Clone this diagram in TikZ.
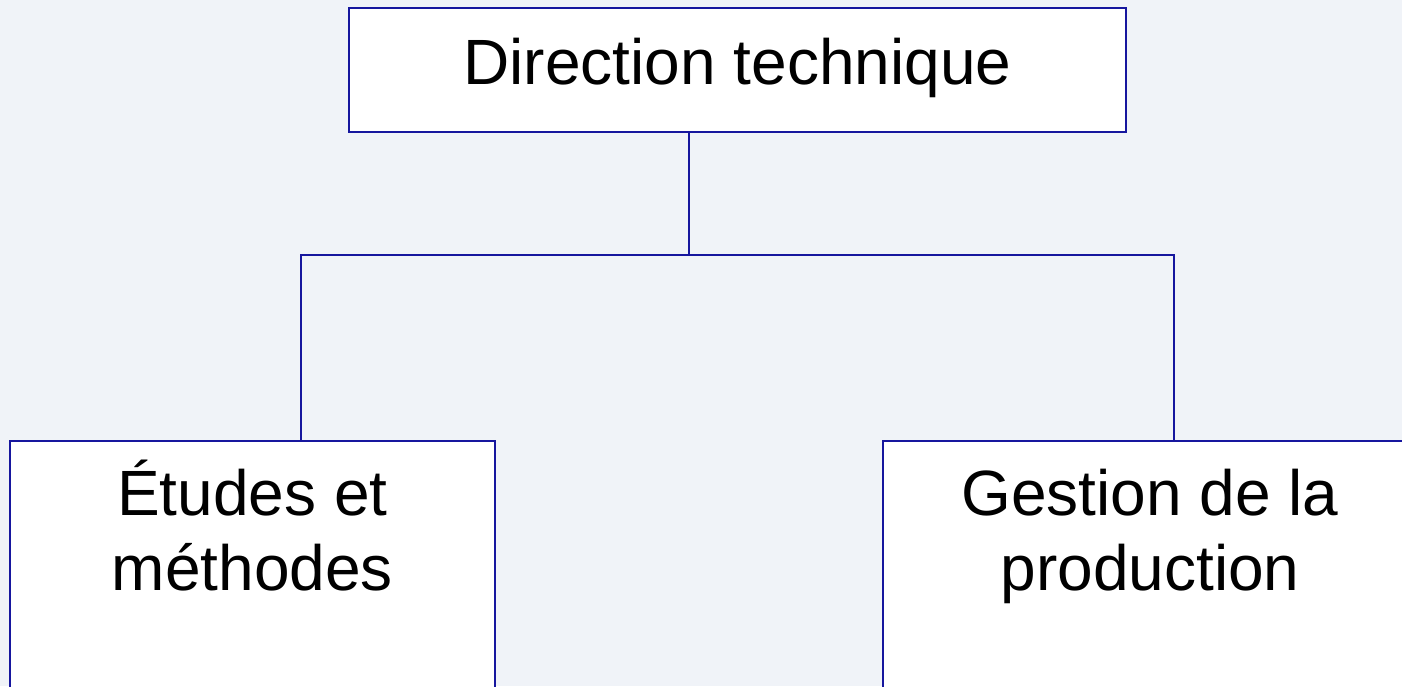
\documentclass[tikz,border=0pt]{standalone}
\usepackage{fontspec}
\setmainfont{Liberation Sans}
\usetikzlibrary{positioning}
\definecolor{orgline}{RGB}{22,22,158}
\definecolor{orgback}{RGB}{240,243,248}

\begin{document}
\begin{tikzpicture}[x=0.5pt,y=-0.5pt,line width=1pt]
\tikzstyle{unit}=[draw=orgline,fill=white,inner sep=0pt]
\tikzstyle{unit text}=[inner sep=0pt,align=center,anchor=base,font=\fontsize{32}{37.5}\selectfont]

\useasboundingbox (0,0) rectangle (1402,686);
\clip (0,0) rectangle (1402,686);
\fill[orgback] (0,0) rectangle (1402,686);

% boxes
\node[unit,minimum width=388.5pt,minimum height=62pt] (dt) at (737.5,70) {};
\node[unit,minimum width=242.5pt,minimum height=140pt] (etudes) at (252.5,581) {};
\node[unit,minimum width=267pt,minimum height=140pt] (gestion) at (1150,581) {};

% texts (base = last line)
\node[unit text] (dt-text) at (737.5,84) {Direction technique};
\node[unit text] (etudes-text) at (252.5,590) {Études et\\méthodes};
\node[unit text] (gestion-text) at (1150,590) {Gestion de la\\production};

% links
\coordinate (split) at (689,255);
\coordinate (split left) at (301,255);
\coordinate (split right) at (1174,255);

\draw[orgline] (dt.south -| split) -- (split);
\draw[orgline] (etudes.north -| split left) -- (split left) -- (split right) -- (gestion.north -| split right);

\end{tikzpicture}
\end{document}
